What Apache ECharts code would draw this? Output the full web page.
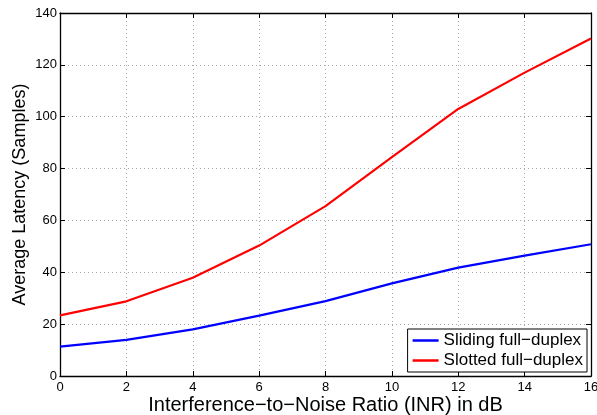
<!DOCTYPE html>
<html><head><meta charset="utf-8">
<script src="https://cdn.jsdelivr.net/npm/echarts@6/dist/echarts.min.js"></script>
<style>html,body{margin:0;padding:0;background:#fff;overflow:hidden}#c{width:597px;height:415px}</style>
</head><body><div id="c"></div>
<script>
const inr = [0, 2, 4, 6, 8, 10, 12, 14, 16];
const sliding = [11.3, 13.9, 18.0, 23.3, 28.9, 35.7, 41.8, 46.4, 50.8];
const slotted = [23.4, 28.8, 37.9, 50.3, 65.5, 84.4, 103.0, 117.0, 130.2];
const seriesNames = ['Sliding full\u2212duplex', 'Slotted full\u2212duplex'];
const xTitle = 'Interference\u2212to\u2212Noise Ratio (INR) in dB';
const yTitle = 'Average Latency (Samples)';

const font = 'Liberation Sans, Arial, Helvetica, sans-serif';
const chart = echarts.init(document.getElementById('c'), null, {renderer: 'canvas'});
const axisLine = {show: true, onZero: false, lineStyle: {color: '#000', width: 1.3}};
const tick = {show: true, inside: true, length: 5, lineStyle: {color: '#000'}};
const split = {show: true, lineStyle: {color: '#aaa', type: [1, 3], width: 1}};
chart.setOption({
  animation: false,
  grid: {left: 60, right: 6, top: 13, bottom: 39, containLabel: false, outerBoundsMode: 'none'},
  legend: {
    show: true,
    orient: 'vertical',
    right: 10, bottom: 43,
    backgroundColor: '#fff',
    borderColor: '#000', borderWidth: 1, borderRadius: 0,
    padding: [3, 4, 3, 5],
    itemGap: 3,
    itemWidth: 26, itemHeight: 2.5,
    icon: 'rect',
    textStyle: {fontFamily: font, fontSize: 17, color: '#000'},
    data: seriesNames
  },
  xAxis: [{
    type: 'value', min: 0, max: 16, interval: 2,
    axisLine, axisTick: tick, splitLine: split,
    axisLabel: {fontFamily: font, fontSize: 13, color: '#000', margin: 5},
    name: xTitle, nameLocation: 'middle', nameGap: 29, nameMoveOverlap: false,
    nameTextStyle: {fontFamily: font, fontSize: 20, color: '#000', verticalAlign: 'middle', lineHeight: 20}
  }, {
    type: 'value', min: 0, max: 16, interval: 2, position: 'top',
    axisLine, axisTick: tick, splitLine: {show: false}, axisLabel: {show: false}
  }],
  yAxis: [{
    type: 'value', min: 0, max: 140, interval: 20,
    axisLine, axisTick: tick, splitLine: split,
    axisLabel: {fontFamily: font, fontSize: 13, color: '#000', margin: 3},
    name: yTitle, nameLocation: 'middle', nameGap: 40, nameMoveOverlap: false,
    nameTextStyle: {fontFamily: font, fontSize: 18, color: '#000', verticalAlign: 'middle', lineHeight: 18}
  }, {
    type: 'value', min: 0, max: 140, interval: 20, position: 'right',
    axisLine, axisTick: tick, splitLine: {show: false}, axisLabel: {show: false}
  }],
  series: [{
    name: seriesNames[0], type: 'line', symbol: 'none',
    data: inr.map((x, i) => [x, sliding[i]]),
    lineStyle: {color: '#0000ff', width: 2.2}, itemStyle: {color: '#0000ff'}
  }, {
    name: seriesNames[1], type: 'line', symbol: 'none',
    data: inr.map((x, i) => [x, slotted[i]]),
    lineStyle: {color: '#ff0000', width: 2.2}, itemStyle: {color: '#ff0000'}
  }]
});
</script></body></html>
